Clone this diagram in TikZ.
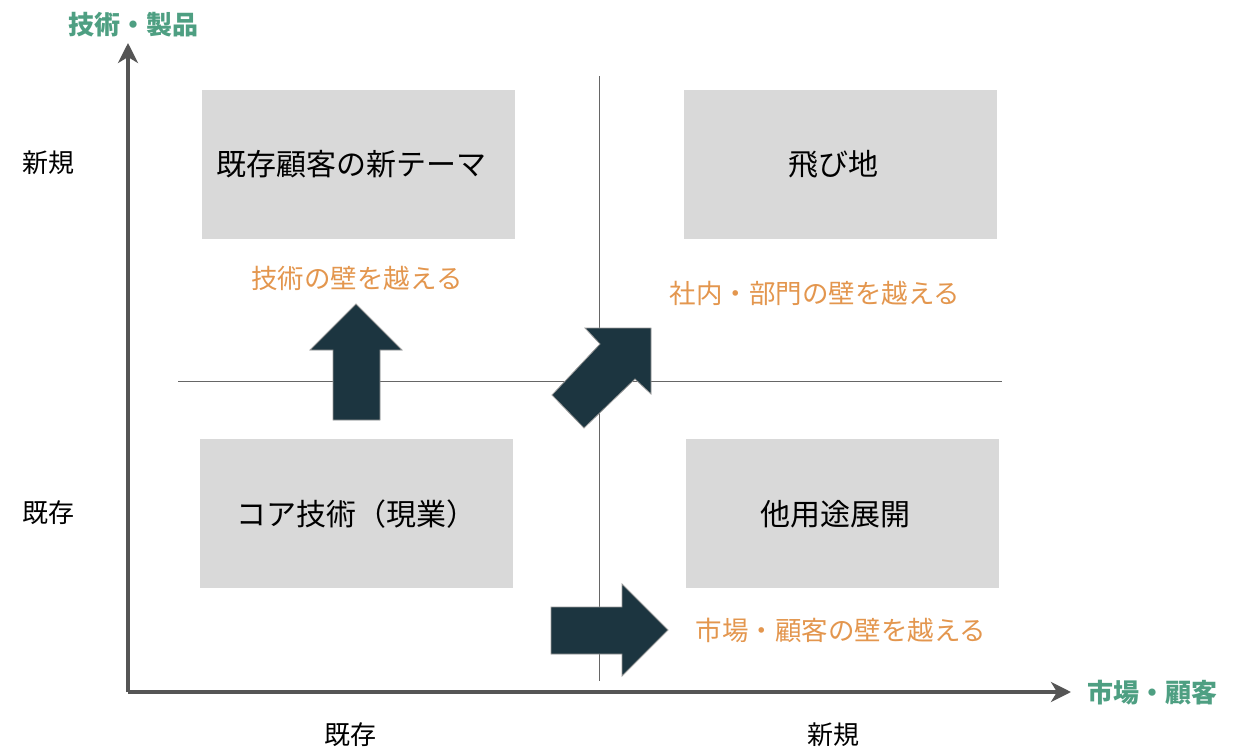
\documentclass[tikz,border=0pt]{standalone}
\usepackage{fontspec}
\setmainfont{Noto Sans CJK JP}
\usetikzlibrary{arrows.meta}
\definecolor{boxgray}{HTML}{D9D9D9}
\definecolor{arrowfill}{HTML}{1C3540}
\definecolor{axisgreen}{HTML}{4E9F82}
\definecolor{wallorange}{HTML}{E3964E}
\definecolor{axisgray}{HTML}{555555}
\tikzset{
  quad/.style={fill=boxgray, draw=none, minimum width=313pt, minimum height=149pt, inner sep=0pt},
  quadtext/.style={text=black, font=\fontsize{30}{36}\selectfont, inner sep=0pt},
  wall/.style={text=wallorange, font=\fontsize{26.5}{32}\selectfont, inner sep=0pt},
  tick/.style={text=black, font=\fontsize{26}{30}\selectfont, inner sep=0pt},
  axislabel/.style={text=axisgreen, font=\fontsize{26}{30}\selectfont\bfseries, inner sep=0pt},
  axisline/.style={draw=axisgray, line width=3.5pt, -{Stealth[length=20pt,width=20pt,inset=6pt]}},
  divider/.style={draw=axisgray!90, line width=1pt},
  bigarrow/.style={fill=arrowfill, draw=gray!80, line width=0.8pt, line join=miter},
}
\begin{document}
\begin{tikzpicture}[x=1pt,y=-1pt]
\useasboundingbox (0,0) rectangle (1254,752);
% dividers
\coordinate (vtop) at (599,76);
\coordinate (vbot) at (599,681);
\coordinate (hleft) at (178,381);
\coordinate (hright) at (1002,381);
\draw[divider] (vtop) -- (vbot);
\draw[divider] (hleft) -- (hright);
% quadrants
\node[quad] (tl) at (358.5,164.5) {};
\node[quad] (tr) at (840.5,164.5) {};
\node[quad] (bl) at (356,513.5) {};
\node[quad] (br) at (842.5,513.5) {};
\node[quadtext] (tlt) at (351,164) {既存顧客の新テーマ};
\node[quadtext] (trt) at (833,164) {飛び地};
\node[quadtext] (blt) at (356.5,514) {コア技術（現業）};
\node[quadtext] (brt) at (835.5,514) {他用途展開};
% wall labels
\node[wall] (w1) at (357,278) {技術の壁を越える};
\node[wall] (w2) at (815,293) {社内・部門の壁を越える};
\node[wall] (w3) at (841,630) {市場・顧客の壁を越える};
% tick labels
\node[tick] (yn) at (48,163) {新規};
\node[tick] (ye) at (48,513) {既存};
\node[tick] (xe) at (350,735) {既存};
\node[tick] (xn) at (833,735) {新規};
% axes
\coordinate (origin) at (128,692);
\coordinate (ytip) at (128,43);
\coordinate (xtip) at (1071,692);
\draw[axisline] (origin) -- (ytip);
\draw[axisline] (origin) -- (xtip);
\node[axislabel] (ylab) at (133,25) {技術・製品};
\node[axislabel] (xlab) at (1152,693) {市場・顧客};
% block arrows
\draw[bigarrow] (333,420) -- (333,350) -- (310,350) -- (356,304) -- (402,350) -- (380,350) -- (380,420) -- cycle;
\draw[bigarrow] (551,607) -- (622,607) -- (622,584) -- (668,630) -- (622,676) -- (622,654) -- (551,654) -- cycle;
\draw[bigarrow] (552,395) -- (600,344) -- (585,328) -- (651,328) -- (651,394) -- (635,379) -- (584,428) -- cycle;
\end{tikzpicture}
\end{document}
